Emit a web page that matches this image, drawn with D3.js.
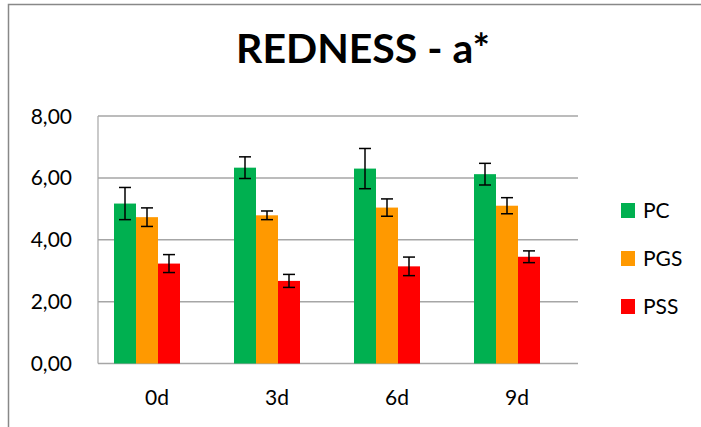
<!DOCTYPE html>
<html><head><meta charset="utf-8">
<script src="https://cdn.jsdelivr.net/npm/d3@7"></script>
<style>body{margin:0;background:#fff}svg{display:block}text{font-family:Lato,"Open Sans",sans-serif}</style>
</head><body><svg id="c" width="701" height="427"></svg>
<script>
const categories = ["0d","3d","6d","9d"];
const seriesNames = ["PC","PGS","PSS"];
const seriesColors = ["#00B050","#FF9900","#FF0000"];
const pcValues = [5.17, 6.33, 6.30, 6.12];
const pgsValues = [4.73, 4.79, 5.04, 5.10];
const pssValues = [3.23, 2.67, 3.14, 3.45];
const pcErr = [0.52, 0.35, 0.65, 0.35];
const pgsErr = [0.30, 0.14, 0.28, 0.26];
const pssErr = [0.29, 0.21, 0.30, 0.19];
const yTicks = [0,2,4,6,8];
const title = "REDNESS - a*";

const values = [pcValues, pgsValues, pssValues];
const errs = [pcErr, pgsErr, pssErr];
const svg = d3.select("#c");
// outer border
svg.append("path").attr("d","M8.5,427 V4.5 H701").attr("fill","none").attr("stroke","#888").attr("stroke-width",1.5);

const L=98, R=578, T=116, B=363.5;
const x = d3.scaleBand().domain(categories).range([L,R]);
const xs = d3.scaleBand().domain(seriesNames).range([0,66]);
const y = d3.scaleLinear().domain([0,8]).range([B,T]);

// gridlines
svg.append("g").selectAll("line").data(yTicks).join("line")
  .attr("x1",L).attr("x2",R).attr("y1",d=>y(d)).attr("y2",d=>y(d))
  .attr("stroke","#A6A6A6").attr("stroke-width",1.5);
svg.append("line").attr("x1",L).attr("x2",L).attr("y1",T).attr("y2",B).attr("stroke","#A6A6A6").attr("stroke-width",1.2);

// y labels
svg.append("g").selectAll("text").data(yTicks).join("text")
  .attr("x",72).attr("y",d=>y(d)).attr("dy","0.36em").attr("text-anchor","end")
  .attr("font-size",21).attr("fill","#000").text(d=>d.toFixed(2).replace(".",","));

// bars
const off = x.bandwidth()/2 - 33 - 11;
seriesNames.forEach((s,si)=>{
  const g = svg.append("g");
  g.selectAll("rect").data(categories).join("rect")
    .attr("x",(c)=>x(c)+off+xs(s)).attr("width",xs.bandwidth())
    .attr("y",(c,i)=>y(values[si][i])).attr("height",(c,i)=>B-y(values[si][i]))
    .attr("fill",seriesColors[si]);
  const eb = svg.append("g").attr("stroke","#000").attr("stroke-width",1.5);
  categories.forEach((c,i)=>{
    const cx = x(c)+off+xs(s)+xs.bandwidth()/2;
    const v=values[si][i], e=errs[si][i];
    eb.append("line").attr("x1",cx).attr("x2",cx).attr("y1",y(v+e)).attr("y2",y(v-e));
    eb.append("line").attr("x1",cx-6).attr("x2",cx+6).attr("y1",y(v+e)).attr("y2",y(v+e));
    eb.append("line").attr("x1",cx-6).attr("x2",cx+6).attr("y1",y(v-e)).attr("y2",y(v-e));
  });
});

// x labels
svg.append("g").selectAll("text").data(categories).join("text")
  .attr("x",c=>x(c)+x.bandwidth()/2-1).attr("y",405).attr("text-anchor","middle")
  .attr("font-size",21).attr("fill","#000").text(c=>c);

// title
svg.append("text").attr("x",363).attr("y",63).attr("text-anchor","middle")
  .attr("font-size",41).attr("font-weight","bold").attr("fill","#000").text(title);

// legend
const lg = svg.append("g");
seriesNames.forEach((s,i)=>{
  const yy = 203 + i*48;
  lg.append("rect").attr("x",621).attr("y",yy).attr("width",14).attr("height",15).attr("fill",seriesColors[i]);
  lg.append("text").attr("x",643).attr("y",yy+7.5).attr("dy","0.36em").attr("font-size",21).attr("fill","#000").text(s);
});
</script></body></html>
